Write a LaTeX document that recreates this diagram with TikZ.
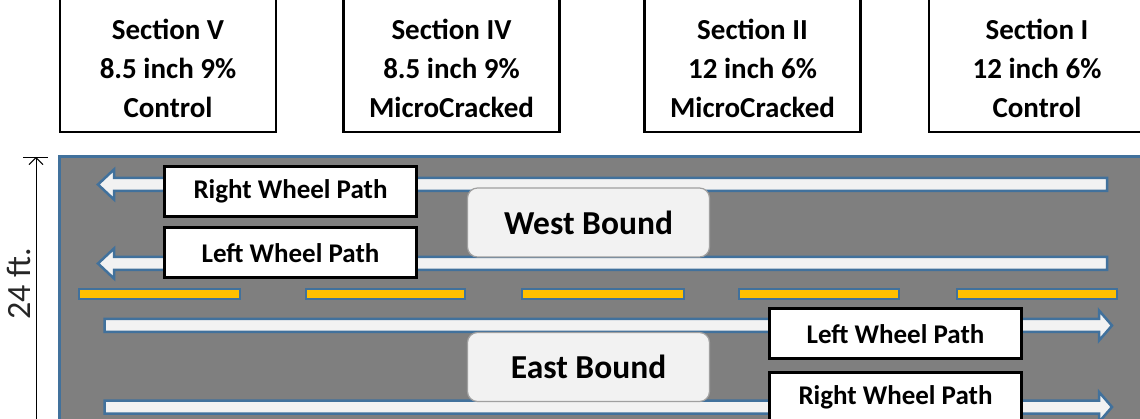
\documentclass[tikz,border=0pt]{standalone}
\usepackage{fontspec}
\setmainfont{Carlito}
\usetikzlibrary{arrows.meta}
\definecolor{roadgrey}{HTML}{7F7F7F}
\definecolor{edgeblue}{HTML}{41719C}
\definecolor{pathfill}{HTML}{F2F2F2}
\definecolor{lineyellow}{HTML}{FFC000}
\definecolor{boundedge}{HTML}{A0A0A0}
\definecolor{dimtext}{HTML}{262626}
\tikzset{
  secbox/.style={draw=black, line width=2.5pt, fill=white, minimum width=216pt, minimum height=142pt, inner sep=0pt},
  sectext/.style={font=\fontsize{29}{39}\selectfont\bfseries, align=center, inner sep=0pt},
  wheelbox/.style={draw=black, line width=3pt, fill=white, minimum width=252pt, minimum height=50pt, inner sep=0pt, font=\fontsize{27}{30}\selectfont\bfseries},
  boundbox/.style={draw=boundedge, line width=1.2pt, fill=pathfill, rounded corners=10pt, minimum width=242pt, minimum height=69pt, inner sep=0pt, font=\fontsize{33.5}{36}\selectfont\bfseries},
  lanearrow/.style={draw=edgeblue, line width=2.5pt, fill=pathfill, line join=miter},
  centerdash/.style={draw=edgeblue, line width=2pt, fill=lineyellow},
  road/.style={draw=edgeblue, line width=3pt, fill=roadgrey},
  dimline/.style={draw=black, line width=0.9pt},
}
\newcommand\westarrow[1]{%
  \draw[lanearrow] (98,#1) -- (114,#1-15) -- (114,#1-6.5) -- (1107,#1-6.5)
    -- (1107,#1+6.5) -- (114,#1+6.5) -- (114,#1+15) -- cycle;}
\newcommand\eastarrow[1]{%
  \draw[lanearrow] (1112,#1) -- (1099,#1-15) -- (1099,#1-6.5) -- (104.5,#1-6.5)
    -- (104.5,#1+6.5) -- (1099,#1+6.5) -- (1099,#1+15) -- cycle;}
\begin{document}
\begin{tikzpicture}[x=1pt,y=-1pt]
\useasboundingbox (0,0) rectangle (1140,419);
\clip (0,0) rectangle (1140,419);
% section boxes
\node[secbox] (s5) at (168,61) {};
\node[sectext] (t5) at (168,68) {Section V\\8.5 inch 9\%\\Control};
\node[secbox] (s4) at (451.5,61) {};
\node[sectext] (t4) at (451.5,68) {Section IV\\8.5 inch 9\%\\MicroCracked};
\node[secbox] (s2) at (752.5,61) {};
\node[sectext] (t2) at (752.5,68) {Section II\\12 inch 6\%\\MicroCracked};
\node[secbox] (s1) at (1037,61) {};
\node[sectext] (t1) at (1037,68) {Section I\\12 inch 6\%\\Control};
% road
\draw[road] (59.5,156.5) rectangle (1160,440);
% centre line dashes
\draw[centerdash] (79,289) rectangle (240,299);
\draw[centerdash] (306,289) rectangle (465,299);
\draw[centerdash] (522,289) rectangle (684,299);
\draw[centerdash] (739,289) rectangle (899,299);
\draw[centerdash] (957,289) rectangle (1117,299);
% lane arrows
\westarrow{184.5}
\westarrow{263.5}
\eastarrow{325.5}
\eastarrow{407}
% bound labels
\node[boundbox] (wb) at (588.5,222.5) {West Bound};
\node[boundbox] (eb) at (588.5,367) {East Bound};
% wheel path boxes
\node[wheelbox] (rwpw) at (290.5,191.5) {Right Wheel Path};
\node[wheelbox] (lwpw) at (290.5,253) {Left Wheel Path};
\node[wheelbox] (lwpe) at (895.5,334) {Left Wheel Path};
\node[wheelbox] (rwpe) at (895.5,397) {Right Wheel Path};
% dimension
\coordinate (dimtop) at (36,157);
\coordinate (dimbot) at (36,440);
\coordinate (tickl) at (23,157);
\coordinate (tickr) at (48,157);
\draw[dimline] (tickl) -- (tickr);
\draw[dimline, -{Straight Barb[length=7pt,width=14pt]}] (dimbot) -- (dimtop);
\node[rotate=90, text=dimtext, font=\fontsize{34}{36}\selectfont, inner sep=0pt] (dimlabel) at (19,284) {24 ft.};
\end{tikzpicture}
\end{document}
